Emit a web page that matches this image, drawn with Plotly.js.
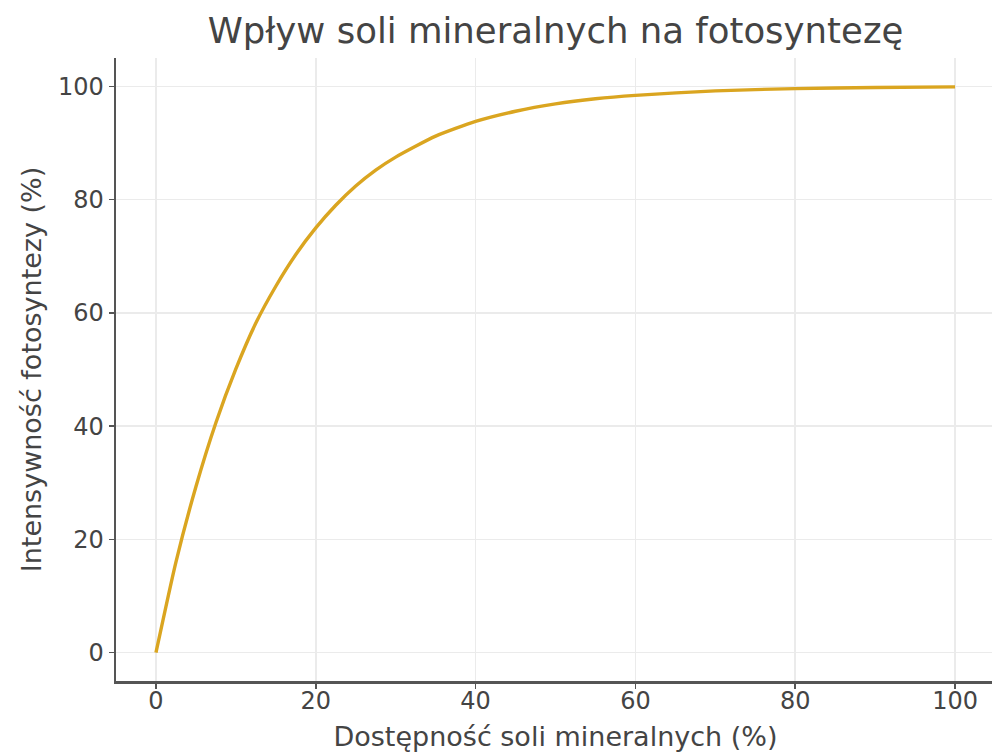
<!DOCTYPE html>
<html>
<head>
<meta charset="utf-8">
<script src="https://cdn.plot.ly/plotly-3.0.1.min.js"></script>
<style>html,body{margin:0;padding:0;overflow:hidden;background:#fff;}#chart{width:997px;height:753px;}</style>
</head>
<body>
<div id="chart"></div>
<script>
const availability = [0, 2.5, 5, 7.5, 10, 12.5, 15, 17.5, 20, 22.5, 25, 27.5, 30, 35, 40, 45, 50, 55, 60, 70, 80, 90, 100];
const photosynthesis = [0, 16, 29.3, 40.6, 50.1, 58.2, 64.7, 70.3, 75, 79, 82.4, 85.2, 87.5, 91.2, 93.8, 95.6, 96.9, 97.8, 98.4, 99.2, 99.6, 99.8, 99.9];
const tickVals = [0, 20, 40, 60, 80, 100];

const trace = {
  x: availability, y: photosynthesis, type: 'scatter', mode: 'lines',
  line: {color: '#DAA520', width: 3.4, shape: 'spline', smoothing: 0.6},
  hoverinfo: 'skip'
};
const axisCommon = {
  tickvals: tickVals, ticks: 'outside', ticklen: 5, tickwidth: 1.5, tickcolor: '#555',
  showline: true, linecolor: '#555', linewidth: 2.5, mirror: false,
  showgrid: true, gridcolor: '#ebebeb', gridwidth: 1.5, zeroline: false,
  tickfont: {family: 'DejaVu Sans', size: 24, color: '#444'}
};
const layout = {
  width: 997, height: 753,
  margin: {l: 116, r: 2, t: 58, b: 72},
  paper_bgcolor: '#fff', plot_bgcolor: '#fff',
  showlegend: false,
  title: {text: 'Wpływ soli mineralnych na fotosyntezę', x: 0.5, xref: 'paper', y: 0.96, yref: 'container', yanchor: 'middle',
          font: {family: 'DejaVu Sans', size: 35.5, color: '#444'}},
  xaxis: Object.assign({}, axisCommon, {range: [-5, 105], ticklabelstandoff: -8,
    title: {text: 'Dostępność soli mineralnych (%)', standoff: 13, font: {family: 'DejaVu Sans', size: 27, color: '#444'}}}),
  yaxis: Object.assign({}, axisCommon, {range: [-5, 105],
    title: {text: 'Intensywność fotosyntezy (%)', standoff: 9, font: {family: 'DejaVu Sans', size: 27, color: '#444'}}})
};
Plotly.newPlot('chart', [trace], layout, {displayModeBar: false, staticPlot: true});
</script>
</body>
</html>
